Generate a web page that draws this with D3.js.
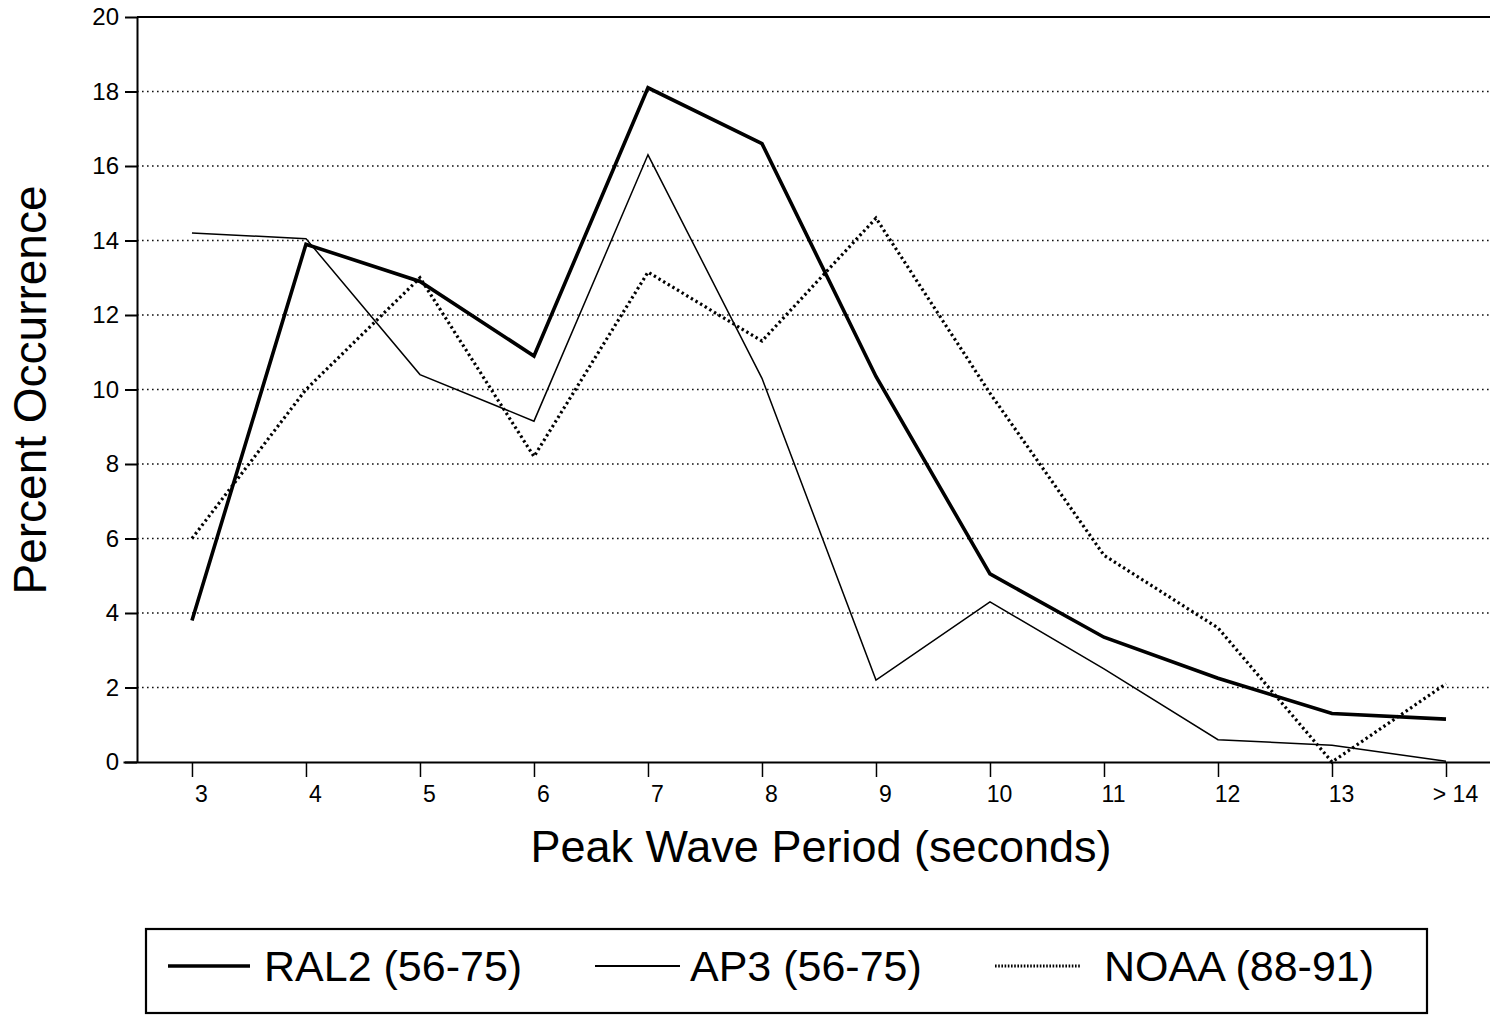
<!DOCTYPE html>
<html>
<head>
<meta charset="utf-8">
<script src="https://cdn.jsdelivr.net/npm/d3@7"></script>
<style>
  html, body { margin: 0; padding: 0; background: #fff; }
  svg { display: block; font-family: "Liberation Sans", Arial, Helvetica, sans-serif; }
</style>
</head>
<body>
<svg id="chart" width="1490" height="1015"></svg>
<script>
// ---- data ----
const categories = ["3", "4", "5", "6", "7", "8", "9", "10", "11", "12", "13", "> 14"];
const ral2 = [3.8, 13.9, 12.9, 10.9, 18.1, 16.6, 10.35, 5.05, 3.35, 2.25, 1.3, 1.15];
const ap3  = [14.2, 14.05, 10.4, 9.15, 16.3, 10.3, 2.2, 4.3, 2.5, 0.6, 0.45, 0.02];
const noaa = [6.0, 10.0, 13.0, 8.2, 13.15, 11.3, 14.6, 9.9, 5.55, 3.6, 0.0, 2.1];
const yTicks = [0, 2, 4, 6, 8, 10, 12, 14, 16, 18, 20];
const gridValues = [2, 4, 6, 8, 10, 12, 14, 16, 18];
const seriesNames = ["RAL2 (56-75)", "AP3 (56-75)", "NOAA (88-91)"];

// ---- layout ----
const svg = d3.select("#chart");
const axisX = 137, plotTop = 17, plotBottom = 762, rightEdge = 1490;

const x = d3.scaleLinear().domain([-0.605, 11.386]).range([123, rightEdge]);
const y = d3.scaleLinear().domain([0, 20]).range([plotBottom, plotTop]);

// grid lines
svg.append("g").selectAll("line").data(gridValues).join("line")
  .attr("x1", axisX).attr("x2", rightEdge)
  .attr("y1", d => y(d)).attr("y2", d => y(d))
  .attr("stroke", "#111").attr("stroke-width", 1.4)
  .attr("stroke-dasharray", "1.6,3.4");

// top border
svg.append("line")
  .attr("x1", axisX).attr("x2", rightEdge)
  .attr("y1", y(20)).attr("y2", y(20))
  .attr("stroke", "#000").attr("stroke-width", 2);

// y axis
const yAxis = svg.append("g").attr("transform", `translate(${axisX},0)`)
  .call(d3.axisLeft(y).tickValues(yTicks).tickSize(12).tickSizeOuter(0).tickPadding(6).tickFormat(d3.format("d")));
yAxis.select(".domain").attr("stroke", "#000").attr("stroke-width", 2);
yAxis.selectAll(".tick line").attr("stroke", "#000").attr("stroke-width", 2);
yAxis.selectAll(".tick text").attr("font-size", 24).attr("fill", "#000")
  .attr("font-family", "'Liberation Sans', Arial, sans-serif");

// x axis
const xAxis = svg.append("g").attr("transform", `translate(0,${plotBottom})`)
  .call(d3.axisBottom(x).tickValues(d3.range(categories.length)).tickSize(15).tickSizeOuter(0)
    .tickFormat(i => categories[i]));
xAxis.select(".domain").attr("stroke", "#000").attr("stroke-width", 2);
xAxis.selectAll(".tick line").attr("stroke", "#000").attr("stroke-width", 1.5);
xAxis.selectAll(".tick text").attr("font-size", 23).attr("fill", "#000")
  .attr("font-family", "'Liberation Sans', Arial, sans-serif")
  .attr("y", 40).attr("dy", 0).attr("dx", 9);

// axis titles
svg.append("text")
  .attr("transform", `translate(46,390) rotate(-90)`)
  .attr("text-anchor", "middle")
  .attr("font-size", 46).attr("fill", "#000")
  .text("Percent Occurrence");

svg.append("text")
  .attr("x", 821).attr("y", 862)
  .attr("text-anchor", "middle")
  .attr("font-size", 45).attr("fill", "#000")
  .text("Peak Wave Period (seconds)");

// series lines
const line = d3.line().x((d, i) => x(i)).y(d => y(d));
const styles = [
  { data: ral2, w: 3.6, dash: null },
  { data: ap3,  w: 1.5, dash: null },
  { data: noaa, w: 3.2, dash: "2.4,3" }
];
svg.append("g").selectAll("path").data(styles).join("path")
  .attr("d", s => line(s.data))
  .attr("fill", "none").attr("stroke", "#000")
  .attr("stroke-width", s => s.w)
  .attr("stroke-linejoin", "miter")
  .attr("stroke-dasharray", s => s.dash);

// legend
const legend = svg.append("g");
legend.append("rect")
  .attr("x", 146).attr("y", 929).attr("width", 1281).attr("height", 84)
  .attr("fill", "none").attr("stroke", "#000").attr("stroke-width", 2.2);

const legendItems = [
  { name: seriesNames[0], x1: 168, x2: 250, tx: 264, w: 3.6, dash: null },
  { name: seriesNames[1], x1: 595, x2: 680, tx: 690, w: 1.8, dash: null },
  { name: seriesNames[2], x1: 995, x2: 1080, tx: 1104, w: 3, dash: "1.6,1.6" }
];
const li = legend.selectAll("g.item").data(legendItems).join("g").attr("class", "item");
li.append("line")
  .attr("x1", d => d.x1).attr("x2", d => d.x2)
  .attr("y1", 966).attr("y2", 966)
  .attr("stroke", "#000").attr("stroke-width", d => d.w)
  .attr("stroke-dasharray", d => d.dash);
li.append("text")
  .attr("x", d => d.tx).attr("y", 981)
  .attr("font-size", 43).attr("fill", "#000")
  .text(d => d.name);
</script>
</body>
</html>
